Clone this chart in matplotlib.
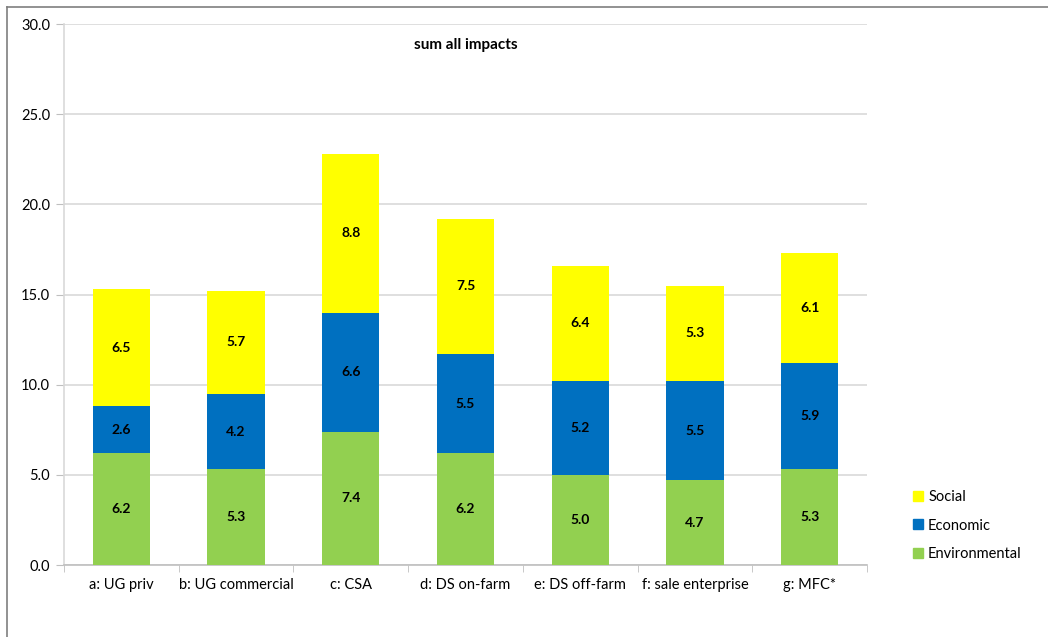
#Stacked bar chart of the summed impacts per category (environmental, economic, social)

import numpy as np
from matplotlib import pyplot as plt
from matplotlib.lines import Line2D

plt.rcParams['font.family'] = ['Lato', 'DejaVu Sans']

#Categories and the three impact series
categories = ['a: UG priv', 'b: UG commercial', 'c: CSA', 'd: DS on-farm',
              'e: DS off-farm', 'f: sale enterprise', 'g: MFC*']
environmental = [6.2, 5.3, 7.4, 6.2, 5.0, 4.7, 5.3]
economic = [2.6, 4.2, 6.6, 5.5, 5.2, 5.5, 5.9]
social = [6.5, 5.7, 8.8, 7.5, 6.4, 5.3, 6.1]
y_ticks = [0, 5, 10, 15, 20, 25, 30]

fig = plt.figure(figsize=(10.48, 6.37), dpi=100)
ax = fig.add_axes([0.0611, 0.113, 0.7662, 0.8493])

x = np.arange(len(categories))
width = 0.5

env = np.array(environmental)
eco = np.array(economic)
soc = np.array(social)

#Bars, stacked from the bottom
ax.bar(x, env, width, color='#92D050', zorder=3)
ax.bar(x, eco, width, bottom=env, color='#0070C0', zorder=3)
ax.bar(x, soc, width, bottom=env + eco, color='#FFFF00', zorder=3)

#Value labels in the middle of each segment
for i in range(len(x)):
    ax.text(x[i], env[i] / 2, '%.1f' % env[i], ha='center', va='center',
            fontsize=10, fontweight='bold', zorder=4)
    ax.text(x[i], env[i] + eco[i] / 2, '%.1f' % eco[i], ha='center', va='center',
            fontsize=10, fontweight='bold', zorder=4)
    ax.text(x[i], env[i] + eco[i] + soc[i] / 2, '%.1f' % soc[i], ha='center', va='center',
            fontsize=10, fontweight='bold', zorder=4)

#Axes styling
ax.set_xlim(-0.5, len(categories) - 0.5)
ax.set_ylim(0, 30)
ax.set_yticks(y_ticks)
ax.set_yticklabels(['%.1f' % v for v in y_ticks])
ax.set_xticks(x)
ax.set_xticklabels(categories)
ax.set_xticks(np.arange(len(categories) + 1) - 0.5, minor=True)
ax.tick_params(axis='x', which='major', length=0, pad=9, labelsize=10.5)
ax.tick_params(axis='x', which='minor', length=5, color='#BFBFBF')
ax.tick_params(axis='y', length=6, color='#BFBFBF', labelsize=10.5, pad=4)
ax.grid(axis='y', color='#D9D9D9', linewidth=1.2, zorder=0)

for side in ['top', 'right']:
    ax.spines[side].set_visible(False)
ax.spines['left'].set_color('#D9D9D9')
ax.spines['left'].set_linewidth(1.2)
ax.spines['bottom'].set_color('#BFBFBF')
ax.spines['bottom'].set_linewidth(1.2)

ax.text(0.5, 0.975, 'sum all impacts', transform=ax.transAxes, ha='center', va='top',
        fontsize=11, fontweight='bold')

#Legend, social on top
handles = [Line2D([], [], marker='s', linestyle='none', markersize=7, color=c)
           for c in ['#FFFF00', '#0070C0', '#92D050']]
fig.legend(handles, ['Social', 'Economic', 'Environmental'], loc='center left',
           bbox_to_anchor=(0.855, 0.175), frameon=False, fontsize=10.5,
           handletextpad=0.1, labelspacing=1.0, handlelength=1.2)

#Gray frame on the left and top like the source screenshot
fig.add_artist(Line2D([0.0067, 0.0067], [0, 0.989], color='#7F7F7F', linewidth=1.2))
fig.add_artist(Line2D([0.0067, 1], [0.989, 0.989], color='#7F7F7F', linewidth=1.2))

fig.savefig('out.png', dpi=100)
